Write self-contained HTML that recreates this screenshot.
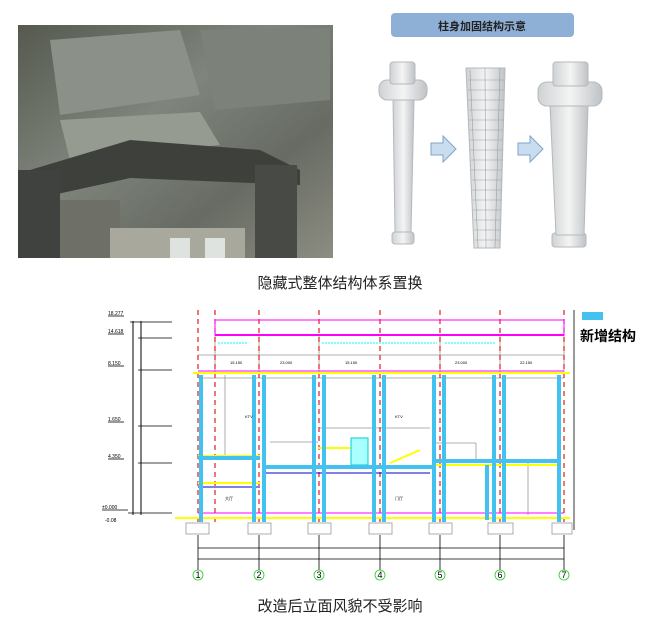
<!DOCTYPE html>
<html><head><meta charset="utf-8"><style>
body{margin:0;background:#fff;width:651px;height:629px;overflow:hidden;font-family:"Liberation Sans","Noto Sans CJK SC",sans-serif}
</style></head><body>
<svg width="651" height="629" viewBox="0 0 651 629" xmlns="http://www.w3.org/2000/svg" font-family="Liberation Sans, Noto Sans CJK SC, sans-serif">
<defs>
<linearGradient id="ph" x1="0" y1="0" x2="1" y2="1">
<stop offset="0" stop-color="#55594f"/><stop offset="0.4" stop-color="#7f857c"/><stop offset="0.7" stop-color="#676b63"/><stop offset="1" stop-color="#8d8d82"/></linearGradient>
<linearGradient id="col" x1="0" x2="1"><stop offset="0" stop-color="#cfd2d4"/><stop offset="0.5" stop-color="#f4f4f4"/><stop offset="1" stop-color="#bfc3c6"/></linearGradient>
</defs>
<!-- photo -->
<rect x="18" y="25" width="315" height="233" fill="url(#ph)"/>
<polygon points="50,40 180,30 200,95 60,115" fill="#8b9088"/>
<polygon points="200,30 330,28 330,100 215,110" fill="#7c8279"/>
<polygon points="60,120 200,112 220,145 70,160" fill="#969b92"/>
<polygon points="30,170 130,140 260,150 300,170 300,185 130,178 30,200" fill="#3d403b"/>
<rect x="18" y="170" width="42" height="88" fill="#3f423e"/>
<rect x="255" y="165" width="42" height="93" fill="#474a45"/>
<rect x="60" y="200" width="60" height="58" fill="#6e6f66"/>
<rect x="110" y="228" width="135" height="30" fill="#a9a89c"/>
<rect x="170" y="238" width="20" height="20" fill="#dfe3e0"/>
<rect x="205" y="238" width="20" height="20" fill="#dfe3e0"/>
<!-- label box -->
<rect x="391" y="13" width="183" height="24" rx="4" fill="#8fb0d6"/>
<text x="482" y="30" font-size="11" font-weight="bold" text-anchor="middle" fill="#222">柱身加固结构示意</text>
<!-- columns -->
<g stroke="#b5b9bc" stroke-width="1" fill="url(#col)">
<rect x="392" y="232" width="22" height="12" rx="3"/>
<polygon points="393,100 414,100 411,232 395,232"/>
<rect x="379" y="80" width="48" height="20" rx="8"/>
<rect x="390" y="62" width="25" height="22" rx="3"/>
<polygon points="466,68 505,68 500,248 474,248"/>
<rect x="552" y="233" width="34" height="14" rx="3"/>
<polygon points="550,105 588,105 584,235 556,235"/>
<rect x="538" y="82" width="64" height="24" rx="9"/>
<rect x="553" y="62" width="35" height="24" rx="3"/>
</g>
<g stroke="#9aa0a4" stroke-width="0.6" fill="none">
<line x1="470" y1="70" x2="478" y2="248"/><line x1="485" y1="68" x2="486" y2="248"/><line x1="500" y1="68" x2="495" y2="248"/>
<path d="M468 80h36M468 90h36M468 100h36M469 110h35M469 120h35M469 130h34M470 140h33M470 150h33M471 160h32M471 170h31M472 180h30M472 190h30M473 200h29M473 210h28M474 220h27M474 230h26M475 240h25"/>
</g>
<g fill="#c9ddf1" stroke="#7fa3c8">
<polygon points="431,143 443,143 443,136 456,149 443,162 443,155 431,155"/>
<polygon points="518,143 530,143 530,136 543,149 530,162 530,155 518,155"/>
</g>
<text x="340" y="288" font-size="15" text-anchor="middle" fill="#222">隐藏式整体结构体系置换</text>
<!-- drawing -->
<g font-size="5" fill="#000">
<line x1="133" y1="321" x2="133" y2="515" stroke="#000"/><line x1="141" y1="321" x2="141" y2="515" stroke="#000"/>
<g stroke="#000" stroke-width="0.8">
<line x1="130" y1="322" x2="172" y2="322"/><line x1="138" y1="338" x2="172" y2="338"/><line x1="138" y1="370" x2="172" y2="370"/>
<line x1="138" y1="426" x2="172" y2="426"/><line x1="138" y1="463" x2="172" y2="463"/><line x1="128" y1="513" x2="172" y2="513"/>
<line x1="108" y1="316" x2="124" y2="316"/><line x1="108" y1="334" x2="124" y2="334"/><line x1="108" y1="366" x2="124" y2="366"/><line x1="108" y1="422" x2="124" y2="422"/><line x1="108" y1="459" x2="124" y2="459"/><line x1="102" y1="510" x2="128" y2="510"/>
</g>
<text x="108" y="315">18.277</text><text x="108" y="333">14.618</text><text x="108" y="365">8.150</text><text x="108" y="421">1.650</text><text x="108" y="458">4.350</text><text x="102" y="509">±0.000</text><text x="105" y="522">-0.08</text>
</g>
<g stroke="#999" fill="none" stroke-width="0.8">
<line x1="198" y1="355" x2="564" y2="355"/><line x1="198" y1="378" x2="564" y2="378"/>
<line x1="225" y1="375" x2="225" y2="455"/><line x1="319" y1="428" x2="430" y2="428"/><line x1="270" y1="442" x2="318" y2="442"/><line x1="436" y1="443" x2="476" y2="443"/><line x1="476" y1="443" x2="476" y2="460"/>
<line x1="528" y1="462" x2="528" y2="515"/><line x1="528" y1="462" x2="560" y2="462"/>
<rect x="186" y="523" width="23" height="11"/><rect x="248" y="523" width="23" height="11"/><rect x="308" y="523" width="23" height="11"/><rect x="369" y="523" width="23" height="11"/><rect x="429" y="523" width="23" height="11"/><rect x="488" y="523" width="25" height="11"/><rect x="552" y="523" width="20" height="11"/>
<line x1="215" y1="335" x2="215" y2="372"/><line x1="259" y1="335" x2="259" y2="372"/><line x1="319" y1="335" x2="319" y2="372"/><line x1="440" y1="335" x2="440" y2="372"/><line x1="500" y1="335" x2="500" y2="372"/><line x1="564" y1="335" x2="564" y2="372"/>
</g>
<!-- grid red dashes -->
<g stroke="#e0201c" stroke-width="1.2" stroke-dasharray="5,4">
<line x1="198" y1="310" x2="198" y2="525"/><line x1="215" y1="310" x2="215" y2="525"/><line x1="259" y1="310" x2="259" y2="525"/><line x1="319" y1="310" x2="319" y2="525"/><line x1="380" y1="310" x2="380" y2="525"/><line x1="440" y1="310" x2="440" y2="525"/><line x1="500" y1="310" x2="500" y2="525"/><line x1="564" y1="310" x2="564" y2="525"/>
</g>
<rect x="215" y="320" width="349" height="15" fill="none" stroke="#f0f" stroke-width="1"/>
<line x1="215" y1="335" x2="564" y2="335" stroke="#f0f" stroke-width="2"/>
<path d="M218 343h30M322 343h115M445 343h50" stroke="#0ff" stroke-dasharray="2,1" fill="none"/>
<line x1="193" y1="373" x2="570" y2="373" stroke="#ff0" stroke-width="2"/>
<line x1="198" y1="371" x2="564" y2="371" stroke="#f0f" stroke-width="1"/>
<line x1="175" y1="518" x2="570" y2="518" stroke="#ff0" stroke-width="2"/>
<line x1="198" y1="513" x2="564" y2="513" stroke="#f0f" stroke-width="1"/>
<line x1="198" y1="456" x2="260" y2="456" stroke="#ff0" stroke-width="2"/>
<line x1="262" y1="467" x2="430" y2="467" stroke="#ff0" stroke-width="2"/>
<line x1="436" y1="465" x2="560" y2="465" stroke="#ff0" stroke-width="2"/>
<line x1="318" y1="448" x2="350" y2="448" stroke="#ff0" stroke-width="2"/>
<line x1="198" y1="483" x2="260" y2="483" stroke="#ff0" stroke-width="2"/>
<line x1="262" y1="473" x2="430" y2="473" stroke="#00c" stroke-width="1"/>
<line x1="198" y1="487" x2="260" y2="487" stroke="#00c" stroke-width="1"/>
<rect x="351" y="438" width="17" height="27" fill="#aff" stroke="#0cc"/>
<line x1="390" y1="463" x2="420" y2="450" stroke="#ff0" stroke-width="2"/>
<!-- blue columns -->
<g stroke="#43c1ef" stroke-width="4">
<line x1="201" y1="375" x2="201" y2="522"/><line x1="254" y1="375" x2="254" y2="522"/><line x1="264" y1="375" x2="264" y2="522"/><line x1="314" y1="375" x2="314" y2="522"/><line x1="324" y1="375" x2="324" y2="522"/><line x1="374" y1="375" x2="374" y2="522"/><line x1="384" y1="375" x2="384" y2="522"/><line x1="434" y1="375" x2="434" y2="522"/><line x1="444" y1="375" x2="444" y2="522"/><line x1="487" y1="465" x2="487" y2="520"/><line x1="494" y1="375" x2="494" y2="522"/><line x1="504" y1="375" x2="504" y2="522"/><line x1="559" y1="375" x2="559" y2="522"/>
<line x1="198" y1="458" x2="260" y2="458"/><line x1="262" y1="467" x2="432" y2="467"/><line x1="436" y1="461" x2="560" y2="461"/>
</g>
<g font-size="4" fill="#000"><text x="230" y="364">15.150</text><text x="280" y="364">23.000</text><text x="345" y="364">15.150</text><text x="455" y="364">23.000</text><text x="520" y="364">22.150</text><text x="245" y="418">KTV</text><text x="395" y="418">KTV</text><text x="225" y="500">大厅</text><text x="395" y="500">门厅</text></g>
<!-- dims -->
<g stroke="#000" stroke-width="0.8">
<line x1="198" y1="548" x2="564" y2="548"/><line x1="198" y1="559" x2="564" y2="559"/>
<line x1="198" y1="535" x2="198" y2="570"/><line x1="259" y1="535" x2="259" y2="570"/><line x1="319" y1="535" x2="319" y2="570"/><line x1="380" y1="535" x2="380" y2="570"/><line x1="440" y1="535" x2="440" y2="570"/><line x1="500" y1="535" x2="500" y2="570"/><line x1="564" y1="535" x2="564" y2="570"/>
<line x1="574" y1="310" x2="574" y2="530"/>
</g>
<g font-size="9" text-anchor="middle" fill="#000">
<g fill="none" stroke="#2c2" stroke-width="0.8"><circle cx="198" cy="575" r="5"/><circle cx="259" cy="575" r="5"/><circle cx="319" cy="575" r="5"/><circle cx="380" cy="575" r="5"/><circle cx="440" cy="575" r="5"/><circle cx="500" cy="575" r="5"/><circle cx="564" cy="575" r="5"/></g>
<text x="198" y="578">1</text><text x="259" y="578">2</text><text x="319" y="578">3</text><text x="380" y="578">4</text><text x="440" y="578">5</text><text x="500" y="578">6</text><text x="564" y="578">7</text>
</g>
<rect x="582" y="312" width="21" height="8" fill="#43c1ef"/>
<text x="580" y="341" font-size="14" font-weight="bold" fill="#000">新增结构</text>
<text x="340" y="611" font-size="15" text-anchor="middle" fill="#222">改造后立面风貌不受影响</text>
</svg>
</body></html>
